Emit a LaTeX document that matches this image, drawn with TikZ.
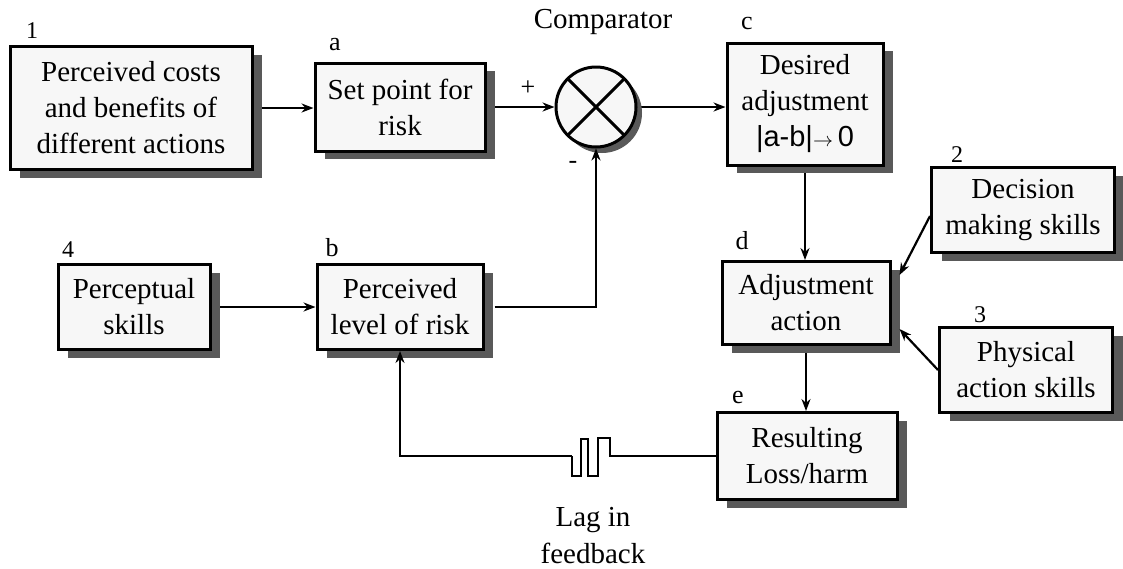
\documentclass[tikz,border=0pt]{standalone}
\usepackage{fontspec}
\setmainfont{Liberation Serif}
\newfontfamily\sansf{Liberation Sans}
\usetikzlibrary{shadows,arrows.meta,calc}
\pgfdeclarelayer{background}
\pgfsetlayers{background,main}
\begin{document}
\begin{tikzpicture}[x=0.5pt,y=-0.5pt]
\tikzset{
  txt/.style={font=\fontsize{14.5}{18}\selectfont},
  blockbox/.style={draw, line width=1.5pt, fill=gray!6, align=center, txt, inner sep=0pt,
    drop shadow={shadow xshift=5pt, shadow yshift=-4pt, fill=black!65, opacity=1}},
  wh/.style 2 args={minimum width=#1*0.5pt, minimum height=#2*0.5pt},
  tag/.style={font=\fontsize{13}{15}\selectfont, inner sep=0pt},
  numtag/.style={font=\fontsize{12}{14}\selectfont, inner sep=0pt},
  conn/.style={line width=1.1pt, -{Stealth[length=6pt,width=4.5pt]}},
}
\useasboundingbox (0,0) rectangle (1123,568);

% blocks
\node[blockbox, wh={242}{123}] (n1) at (131,108) {Perceived costs\\and benefits of\\different actions};
\node[blockbox, wh={170}{88}]  (a)  at (400,107) {Set point for\\risk};
\node[draw, circle, line width=1.5pt, fill=gray!6, minimum size=80*0.5pt, inner sep=0pt,
      drop shadow={shadow xshift=3pt, shadow yshift=-3pt, fill=black!65, opacity=1}] (comp) at (596,107) {};
\draw[line width=1.5pt, shorten >=1pt, shorten <=1pt] (comp.north west) -- (comp.south east);
\draw[line width=1.5pt, shorten >=1pt, shorten <=1pt] (comp.north east) -- (comp.south west);
\node[blockbox, wh={156}{122}] (c)  at (805,104) {Desired\\adjustment\\{\sansf |a-b|}{\fontsize{10}{10}\selectfont$\to$}\,{\sansf 0}};
\node[blockbox, wh={183}{85}]  (n2) at (1023,210) {Decision\\making skills};
\node[blockbox, wh={168}{83}]  (d)  at (806,303) {Adjustment\\action};
\node[blockbox, wh={173}{85}]  (n3) at (1026,370) {Physical\\action skills};
\node[blockbox, wh={180}{87}]  (e)  at (807,456) {Resulting\\Loss/harm};
\node[blockbox, wh={152}{85}]  (n4) at (134,307) {Perceptual\\skills};
\node[blockbox, wh={166}{85}]  (b)  at (400,307) {Perceived\\level of risk};

% labels
\node[numtag] (t1) at (32,31) {1};
\node[tag] (ta) at (335,45) {a};
\node[txt, inner sep=0pt] (tcomp) at (603,22) {Comparator};
\node[tag] (tc) at (747,23) {c};
\node[numtag] (t2) at (957,155) {2};
\node[tag] (td) at (742,241) {d};
\node[numtag] (t3) at (980,315) {3};
\node[numtag] (t4) at (68,250) {4};
\node[tag] (tb) at (332,248) {b};
\node[tag] (te) at (738,397) {e};
\node[tag] (tplus) at (528,88) {+};
\node[tag] (tminus) at (573,165) {-};
\node[txt, inner sep=0pt, align=center, anchor=south, font=\fontsize{14.5}{18.5}\selectfont] (tlag) at (593,564) {Lag in\\feedback};

% connectors hidden behind the shadows
\begin{pgfonlayer}{background}
\draw[conn] (n1.east) -- (n1.east -| a.west);
\draw[conn] (a.east) -- (comp.west);
\draw[conn] (comp.east) -- (comp.east -| c.west);
\draw[conn] (n4.east) -- (n4.east -| b.west);
\draw[conn] (c.south) -- (c.south |- d.north);
\draw[conn] (d.south) -- (d.south |- e.north);
\end{pgfonlayer}

% connectors drawn over the shadows
\draw[conn] ([xshift=5pt]b.east) -| (comp.south);
\draw[conn] ($(n2.west)+(0,6)$) -- ($(d.east)+(8,-28)$);
\draw[conn] (n3.west) -- ($(d.east)+(8,26)$);

% feedback path with lag element
\coordinate (lagR) at (e.west -| 610,0);
\draw[line width=0.9pt] (e.west) -- (lagR) -- ++(0,-18) -- ++(-12,0) -- ++(0,38) -- ++(-10,0)
  -- ++(0,-37) -- ++(-7,0) -- ++(0,37) -- ++(-9,0) -- ++(0,-20) coordinate (lagL);
\draw[conn, line width=0.9pt] (lagL) -| (b.south);
\end{tikzpicture}
\end{document}
